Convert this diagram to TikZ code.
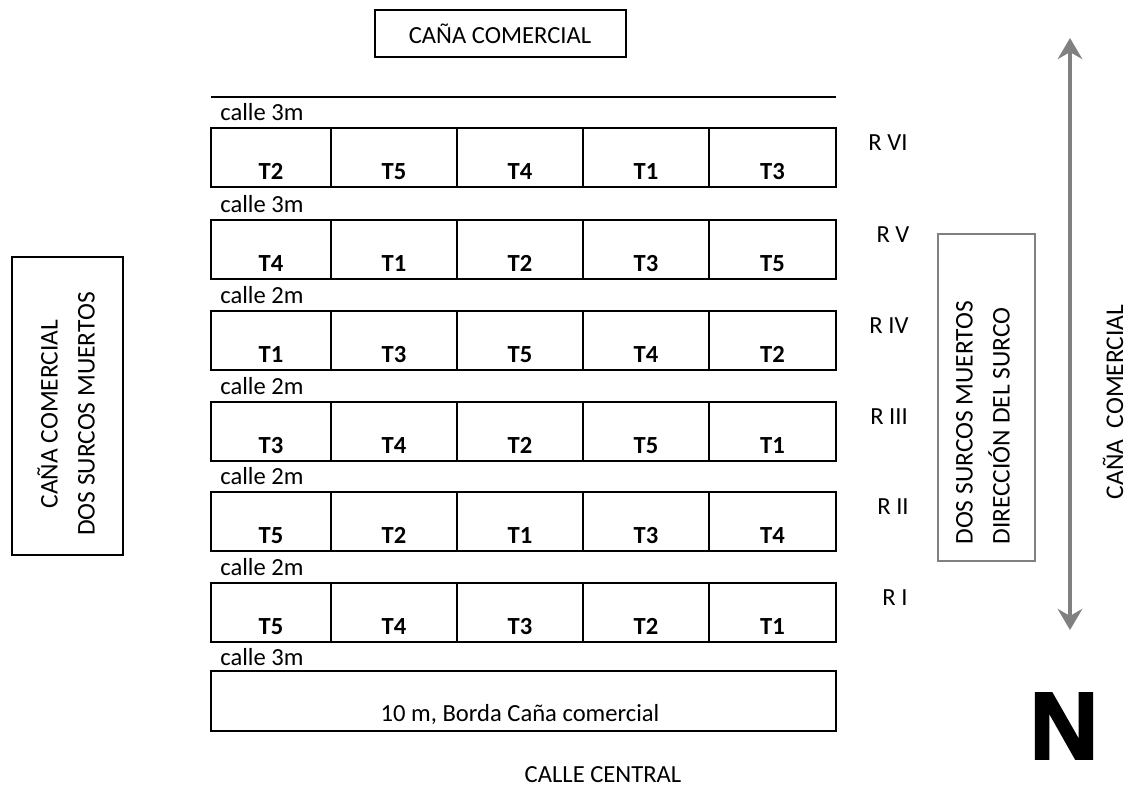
\documentclass[tikz,border=0pt]{standalone}
\usepackage{fontspec}
\setmainfont{Carlito}
\newfontfamily\nfont[FakeBold=2.5]{Liberation Sans}
\usetikzlibrary{positioning,arrows.meta}

\begin{document}
\begin{tikzpicture}[x=0.02cm,y=-0.02cm,
    txt/.style={font=\fontsize{14}{16}\selectfont, inner sep=0pt},
    tlbl/.style={font=\fontsize{14}{16}\selectfont\bfseries, inner sep=0pt, anchor=base},
    plot/.style={draw=black, line width=0.8pt},
    vtxt/.style={font=\fontsize{14.5}{21}\selectfont, inner sep=0pt, rotate=90}]
\useasboundingbox (0,0) rectangle (1130,789);

% Borde superior
\draw[plot] (375,10) rectangle (626,57);
\node[txt] (norte) at (500,34) {CAÑA COMERCIAL};
\draw[line width=0.8pt] (211,97) -- (836,97);

% Repeticiones y tratamientos
\def\edges{{211,331,457,583,709,836}}
\foreach \top/\labs/\rep/\rx/\calle [count=\r] in {
    128/{T2,T5,T4,T1,T3}/R VI/888/calle 3m,
    220/{T4,T1,T2,T3,T5}/R V/893/calle 3m,
    311/{T1,T3,T5,T4,T2}/R IV/889/calle 2m,
    402/{T3,T4,T2,T5,T1}/R III/889/calle 2m,
    492/{T5,T2,T1,T3,T4}/R II/893/calle 2m,
    583/{T5,T4,T3,T2,T1}/R I/895/calle 2m}{
  \node[txt, anchor=west] (calle\r) at (220,\top-16) {\calle};
  \node[txt] (rep\r) at (\rx,\top+15) {\rep};
  \foreach \lab [count=\i] in \labs {
    \pgfmathsetmacro\xl{\edges[\i-1]}
    \pgfmathsetmacro\xr{\edges[\i]}
    \draw[plot] (\xl,\top) rectangle (\xr,\top+59);
    \node[tlbl] (t\r\i) at ({(\xl+\xr)/2},\top+51) {\lab};
  }
}

% Borda inferior
\node[txt, anchor=west] (calle7) at (220,657) {calle 3m};
\draw[plot] (211,671) rectangle (836,731);
\node[txt] (borda) at (520,715) {10 m, Borda Caña comercial};
\node[txt] (central) at (603,775) {CALLE CENTRAL};

% Lado izquierdo
\draw[plot] (12,257) rectangle (123,555);
\node[vtxt, align=center] (oeste) at (66,414) {CAÑA COMERCIAL\\DOS SURCOS MUERTOS};

% Lado derecho
\draw[draw=gray, line width=0.8pt] (938,234) rectangle (1035,561);
\node[vtxt, align=left, anchor=west] (surco) at (983,545) {DOS SURCOS MUERTOS\\DIRECCIÓN DEL SURCO};
\coordinate (flechaA) at (1070,38);
\coordinate (flechaB) at (1070,630);
\draw[gray, line width=2.4pt, {Stealth[length=12pt,width=14pt,inset=4pt]}-{Stealth[length=12pt,width=14pt,inset=4pt]}] (flechaA) -- (flechaB);
\node[vtxt] (este) at (1113,402) {CAÑA\ \ COMERCIAL};

% Norte
\node[font=\nfont\fontsize{54}{54}\selectfont\bfseries, inner sep=0pt] (N) at (1064,726) {N};
\end{tikzpicture}
\end{document}
